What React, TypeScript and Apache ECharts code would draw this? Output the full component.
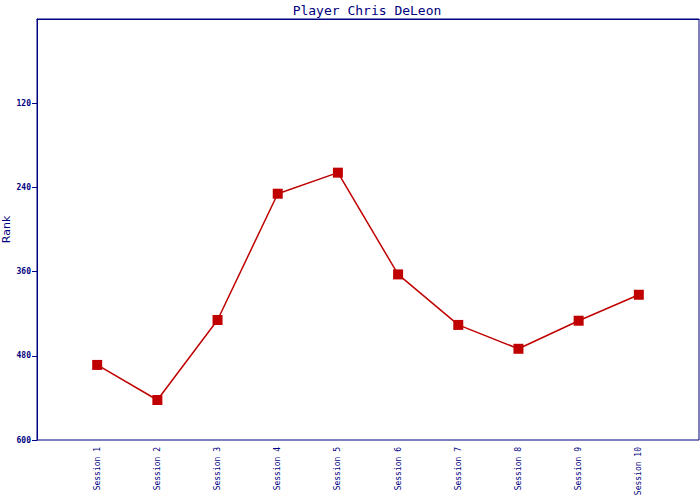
import React, { useEffect, useRef } from "react";
import * as echarts from "echarts";

const sessions = ["", "Session 1", "Session 2", "Session 3", "Session 4", "Session 5", "Session 6", "Session 7", "Session 8", "Session 9", "Session 10", ""];
const ranks: (number | null)[] = [null, 493, 543, 429, 249, 219, 364, 436, 470, 430, 393, null];
const titleText = "Player Chris DeLeon";
const yName = "Rank";

const NAVY = "#000080";
const RED = "#c00000";
const MONO = "'DejaVu Sans Mono', 'Liberation Mono', monospace";

export default function App() {
  const ref = useRef<HTMLDivElement>(null);
  useEffect(() => {
    if (!ref.current) return;
    const chart = echarts.init(ref.current, undefined, { renderer: "svg" });
    chart.setOption({
      animation: false,
      backgroundColor: "#ffffff",
      title: {
        text: titleText,
        left: 362,
        textAlign: "center",
        top: -1,
        textStyle: { color: NAVY, fontFamily: MONO, fontSize: 13, fontWeight: "normal" },
      },
      grid: {
        left: 37,
        right: 1,
        top: 19,
        bottom: 60,
        show: true,
        borderColor: NAVY,
        borderWidth: 1,
        containLabel: false,
        outerBoundsMode: "none",
      },
      xAxis: {
        type: "category",
        data: sessions,
        boundaryGap: false,
        axisLine: { lineStyle: { color: NAVY, width: 1 } },
        axisTick: { show: false },
        splitLine: { show: false },
        axisLabel: {
          interval: 0,
          rotate: 90,
          margin: 7,
          color: NAVY,
          fontFamily: MONO,
          fontSize: 8,
        },
      },
      yAxis: {
        type: "value",
        inverse: true,
        min: 0,
        max: 600,
        interval: 120,
        name: yName,
        nameLocation: "middle",
        nameGap: 25,
        nameMoveOverlap: false,
        nameTextStyle: { color: NAVY, fontFamily: "'DejaVu Sans', sans-serif", fontSize: 11 },
        axisLine: { show: true, lineStyle: { color: NAVY, width: 1 } },
        axisTick: { show: true, length: 5, lineStyle: { color: NAVY } },
        splitLine: { show: false },
        axisLabel: {
          showMinLabel: false,
          margin: 6,
          color: NAVY,
          fontFamily: MONO,
          fontSize: 8,
          fontWeight: "bold",
        },
      },
      series: [
        {
          type: "line",
          data: ranks,
          symbol: "rect",
          symbolSize: 10,
          showAllSymbol: true,
          connectNulls: false,
          lineStyle: { color: RED, width: 1.5 },
          itemStyle: { color: RED },
        },
      ],
    });
    return () => chart.dispose();
  }, []);
  return <div ref={ref} style={{ position: "fixed", left: 0, top: 0, width: 700, height: 500 }} />;
}
